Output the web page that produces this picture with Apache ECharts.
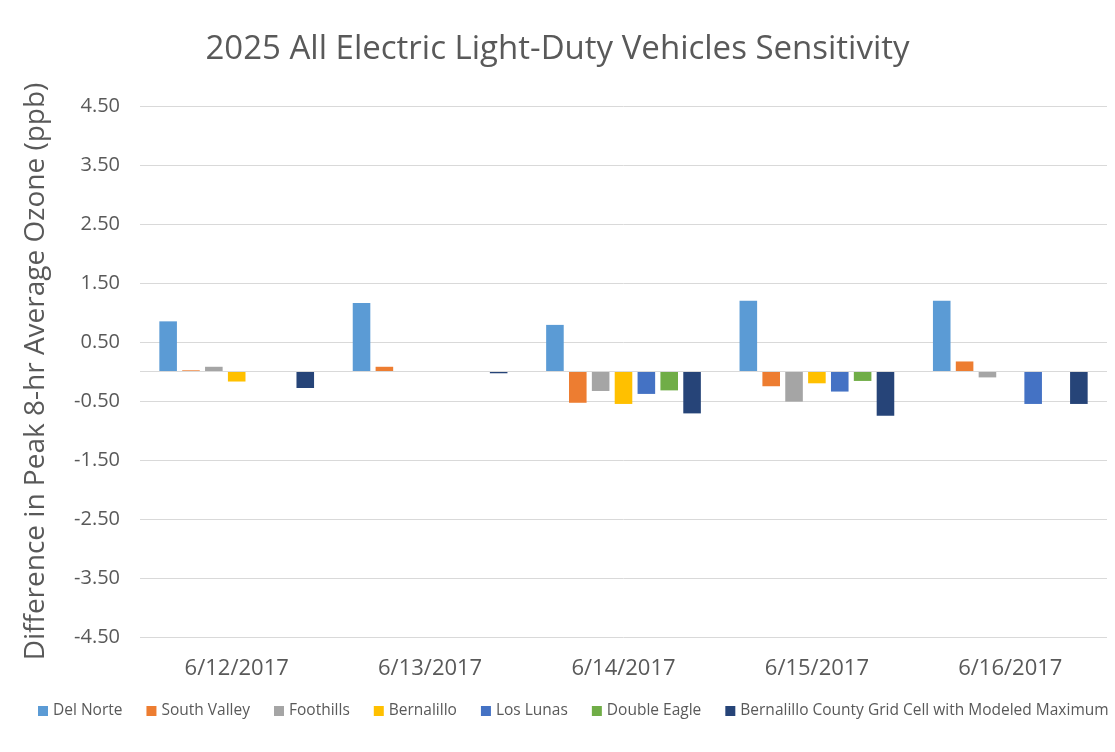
<!DOCTYPE html>
<html><head><meta charset="utf-8">
<script src="https://cdn.jsdelivr.net/npm/echarts@6/dist/echarts.min.js"></script>
<style>html,body{margin:0;padding:0;background:#fff}#c{width:1115px;height:752px}</style>
</head><body><div id="c"></div>
<script>
const categories = ['6/12/2017','6/13/2017','6/14/2017','6/15/2017','6/16/2017'];
const seriesNames = ['Del Norte','South Valley','Foothills','Bernalillo','Los Lunas','Double Eagle','Bernalillo County Grid Cell with Modeled Maximum'];
const delNorte    = [0.85, 1.16, 0.79, 1.20, 1.20];
const southValley = [0.02, 0.08, -0.53, -0.25, 0.17];
const foothills   = [0.08, 0, -0.33, -0.51, -0.10];
const bernalillo  = [-0.17, 0, -0.55, -0.20, 0];
const losLunas    = [0, 0, -0.38, -0.34, -0.55];
const doubleEagle = [0, 0, -0.32, -0.16, 0];
const gridCellMax = [-0.28, -0.03, -0.71, -0.75, -0.55];
const yTicks = [-4.5,-3.5,-2.5,-1.5,-0.5,0.5,1.5,2.5,3.5,4.5];
const colors = ['#5B9BD5','#ED7D31','#A5A5A5','#FFC000','#4472C4','#70AD47','#264478'];
const allValues = [delNorte, southValley, foothills, bernalillo, losLunas, doubleEagle, gridCellMax];

const chart = echarts.init(document.getElementById('c'));
const font = '"Open Sans", sans-serif';
chart.setOption({
  animation: false,
  color: colors,
  textStyle: {fontFamily: font},
  title: {text: '2025 All Electric Light-Duty Vehicles Sensitivity', left: 'center', top: 28,
    textStyle: {fontFamily: font, fontSize: 33, fontWeight: 'normal', color: '#595959'}},
  legend: {top: 698, left: 33, itemWidth: 10, itemHeight: 10, itemGap: 24, icon: 'rect',
    textStyle: {fontFamily: font, fontSize: 15.5, color: '#595959'}, data: seriesNames},
  grid: {left: 140, right: 8, top: 106, bottom: 115},
  xAxis: {type: 'category', data: categories,
    axisLine: {show: false}, axisTick: {show: false},
    axisLabel: {fontSize: 22, color: '#595959', margin: 21, fontFamily: font}},
  yAxis: {type: 'value', min: -4.5, max: 4.5,
    name: 'Difference in Peak 8-hr Average Ozone (ppb)', nameLocation: 'middle', nameGap: 90,
    nameTextStyle: {fontSize: 28, color: '#595959', fontFamily: font},
    axisLine: {show: false},
    axisTick: {show: false, customValues: yTicks},
    axisLabel: {customValues: yTicks, fontSize: 20, color: '#595959', margin: 20, fontFamily: font,
      formatter: v => v.toFixed(2)},
    splitLine: {lineStyle: {color: '#D9D9D9', width: 1}}},
  series: seriesNames.map((n, i) => ({
    name: n, type: 'bar', data: allValues[i], barGap: '30%', barCategoryGap: '20%',
    markLine: i === 0 ? {silent: true, symbol: 'none', label: {show: false},
      lineStyle: {color: '#D9D9D9', type: 'solid', width: 1}, data: [{yAxis: 0}]} : undefined
  }))
});
</script></body></html>
